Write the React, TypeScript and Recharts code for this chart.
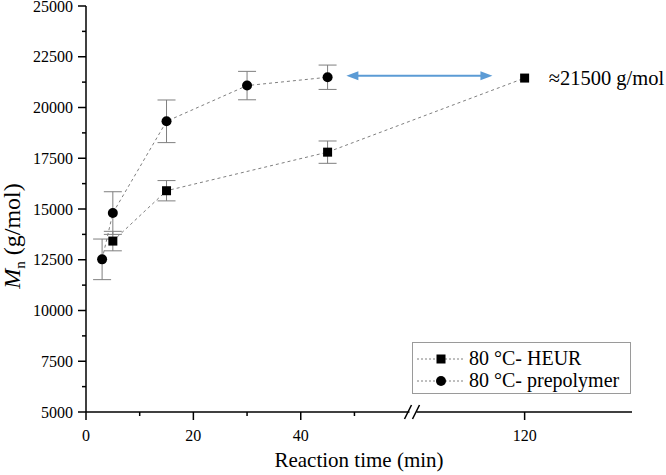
import { LineChart, Line, XAxis, YAxis, ErrorBar, ReferenceLine, ReferenceDot } from "recharts";

// 80 °C - HEUR
const heurTime = [5, 15, 45, 120];
const heurMn = [13420, 15900, 17800, 21450];
const heurErr = [480, 500, 550, 0];

// 80 °C - prepolymer
const prepTime = [3, 5, 15, 30, 45];
const prepMn = [12520, 14800, 19320, 21080, 21490];
const prepErr = [1000, 1050, 1050, 700, 600];

const xTickTimes = [0, 10, 20, 30, 40, 50, 120];
const xTickLabels = ["0", "", "20", "", "40", "", "120"];
const yTicks = [5000, 6250, 7500, 8750, 10000, 11250, 12500, 13750, 15000, 16250, 17500, 18750, 20000, 21250, 22500, 23750, 25000];

// annotation: plateau arrow and value
const arrowTimes = [48.5, 114];
const arrowMn = 21570;
const plateauLabel = "≈21500 g/mol";

// broken axis: everything past the break is shifted left
const BREAK_AT = 61;
const SHIFT = 38.3;
const X_MAX = 101.7;
const toAxis = (t: number) => (t > BREAK_AT ? t - SHIFT : t);

const heurData = heurTime.map((t, i) => ({ x: toAxis(t), y: heurMn[i], err: heurErr[i] }));
const prepData = prepTime.map((t, i) => ({ x: toAxis(t), y: prepMn[i], err: prepErr[i] }));
const xTicks = xTickTimes.map(toAxis);

const FONT = "'Liberation Serif', 'Times New Roman', serif";
const GRAY = "#7f7f7f";

const XTick = (props: any) => {
  const { x, y, index } = props;
  const label = xTickLabels[index];
  const major = label !== "";
  return (
    <g>
      <line x1={x} x2={x} y1={y} y2={y + (major ? 8 : 4)} stroke="#000" strokeWidth={1.5} />
      {major && (
        <text x={x} y={y + 29} textAnchor="middle" fontFamily={FONT} fontSize={16} fill="#000">
          {label}
        </text>
      )}
    </g>
  );
};

const YTick = (props: any) => {
  const { x, y, payload } = props;
  const major = payload.value % 2500 === 0;
  return (
    <g>
      <line x1={x} x2={x - (major ? 8 : 4)} y1={y} y2={y} stroke="#000" strokeWidth={1.5} />
      {major && (
        <text x={x - 13} y={y} dy="0.35em" textAnchor="end" fontFamily={FONT} fontSize={16} fill="#000">
          {payload.value}
        </text>
      )}
    </g>
  );
};

const Square = (p: any) => (
  <rect key={`s${p.index}`} x={p.cx - 4.5} y={p.cy - 4.5} width={9} height={9} fill="#000" />
);
const Circle = (p: any) => <circle key={`c${p.index}`} cx={p.cx} cy={p.cy} r={5} fill="#000" />;

const Arrow = (p: any) => {
  const { x1, y1, x2, y2 } = p;
  const h = 12;
  const w = 4.5;
  return (
    <g>
      <line x1={x1 + h - 2} y1={y1} x2={x2 - h + 2} y2={y2} stroke="#5b9bd5" strokeWidth={2} />
      <polygon points={`${x1},${y1} ${x1 + h},${y1 - w} ${x1 + h},${y1 + w}`} fill="#5b9bd5" />
      <polygon points={`${x2},${y2} ${x2 - h},${y2 - w} ${x2 - h},${y2 + w}`} fill="#5b9bd5" />
    </g>
  );
};

const AxisBreak = (p: any) => {
  const { cx, cy } = p;
  return (
    <g>
      <rect x={cx - 4} y={cy - 3} width={7} height={6} fill="#fff" />
      <line x1={cx - 9} y1={cy + 7} x2={cx - 2} y2={cy - 7} stroke="#000" strokeWidth={1.5} />
      <line x1={cx - 1} y1={cy + 7} x2={cx + 6} y2={cy - 7} stroke="#000" strokeWidth={1.5} />
    </g>
  );
};

const PlateauText = (p: any) => (
  <text x={p.cx + 24} y={p.cy} dy="0.35em" fontFamily={FONT} fontSize={20.5} fill="#000">
    {plateauLabel}
  </text>
);

const LegendRow = ({ marker, label }: { marker: "square" | "circle"; label: string }) => (
  <div style={{ display: "flex", alignItems: "center", height: 25 }}>
    <svg width={52} height={20} style={{ flex: "none" }}>
      <line x1={4} x2={50} y1={10} y2={10} stroke={GRAY} strokeDasharray="2 2" />
      {marker === "square" ? (
        <rect x={23.5} y={5.5} width={9} height={9} fill="#000" />
      ) : (
        <circle cx={28} cy={10} r={5} fill="#000" />
      )}
    </svg>
    <span style={{ fontFamily: FONT, fontSize: 20, marginLeft: 4, whiteSpace: "nowrap" }}>{label}</span>
  </div>
);

export default function App() {
  return (
    <div style={{ position: "absolute", left: 0, top: 0, width: 666, height: 475, background: "#fff" }}>
      <LineChart width={666} height={475} margin={{ top: 6, right: 34, left: 0, bottom: 0 }}>
        <XAxis
          type="number"
          dataKey="x"
          domain={[0, X_MAX]}
          ticks={xTicks}
          interval={0}
          tick={XTick}
          tickLine={false}
          tickSize={0}
          tickMargin={0}
          height={63}
          allowDataOverflow
          axisLine={{ stroke: "#000", strokeWidth: 1.5 }}
          label={{
            content: () => (
              <text x={359} y={467} textAnchor="middle" fontFamily={FONT} fontSize={21} fill="#000">
                Reaction time (min)
              </text>
            ),
          }}
        />
        <YAxis
          type="number"
          domain={[5000, 25000]}
          ticks={yTicks}
          interval={0}
          tick={YTick}
          tickLine={false}
          tickSize={0}
          tickMargin={0}
          width={86}
          allowDataOverflow
          axisLine={{ stroke: "#000", strokeWidth: 1.5 }}
          label={{
            content: () => (
              <text transform="translate(20,236) rotate(-90)" textAnchor="middle" fontFamily={FONT} fontSize={24} fill="#000">
                <tspan fontStyle="italic">M</tspan>
                <tspan fontSize={15} dy={5}>n</tspan>
                <tspan dy={-5}> (g/mol)</tspan>
              </text>
            ),
          }}
        />
        <Line
          data={heurData}
          dataKey="y"
          type="linear"
          stroke={GRAY}
          strokeWidth={1}
          strokeDasharray="3 3"
          dot={Square}
          activeDot={false}
          isAnimationActive={false}
        >
          <ErrorBar dataKey="err" width={9} stroke={GRAY} strokeWidth={1} direction="y" isAnimationActive={false} />
        </Line>
        <Line
          data={prepData}
          dataKey="y"
          type="linear"
          stroke={GRAY}
          strokeWidth={1}
          strokeDasharray="3 3"
          dot={Circle}
          activeDot={false}
          isAnimationActive={false}
        >
          <ErrorBar dataKey="err" width={9} stroke={GRAY} strokeWidth={1} direction="y" isAnimationActive={false} />
        </Line>
        <ReferenceLine
          segment={[
            { x: toAxis(arrowTimes[0]), y: arrowMn },
            { x: toAxis(arrowTimes[1]), y: arrowMn },
          ]}
          shape={Arrow}
          ifOverflow="visible"
        />
        <ReferenceDot x={toAxis(120)} y={21450} r={0} shape={PlateauText} ifOverflow="visible" />
        <ReferenceDot x={BREAK_AT} y={5000} r={0} shape={AxisBreak} ifOverflow="visible" />
      </LineChart>
      <div
        style={{
          position: "absolute",
          left: 412,
          top: 342,
          width: 217,
          height: 50,
          paddingTop: 0,
          border: "1px solid #9a9a9a",
          background: "#fff",
          boxSizing: "content-box",
        }}
      >
        <div style={{ height: 3 }} />
        <LegendRow marker="square" label="80 °C- HEUR" />
        <div style={{ marginTop: -3 }}>
          <LegendRow marker="circle" label="80 °C- prepolymer" />
        </div>
      </div>
    </div>
  );
}
